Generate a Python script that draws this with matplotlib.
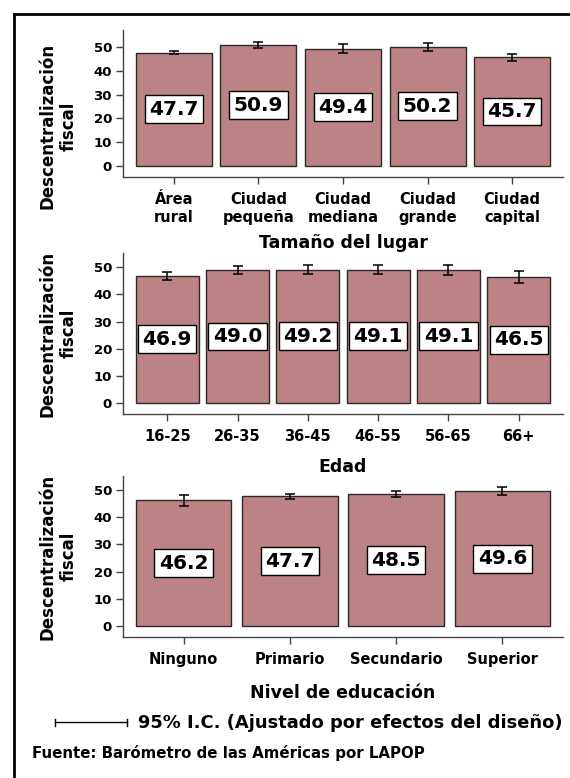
import numpy as np
import matplotlib
matplotlib.use('Agg')
import matplotlib.pyplot as plt
from matplotlib.lines import Line2D

# datos
lugar_cats = ['Área\nrural', 'Ciudad\npequeña', 'Ciudad\nmediana', 'Ciudad\ngrande', 'Ciudad\ncapital']
lugar_vals = [47.7, 50.9, 49.4, 50.2, 45.7]
lugar_err = [0.7, 1.3, 1.8, 1.7, 1.5]

edad_cats = ['16-25', '26-35', '36-45', '46-55', '56-65', '66+']
edad_vals = [46.9, 49.0, 49.2, 49.1, 49.1, 46.5]
edad_err = [1.4, 1.4, 1.6, 1.6, 1.8, 2.2]

educ_cats = ['Ninguno', 'Primario', 'Secundario', 'Superior']
educ_vals = [46.2, 47.7, 48.5, 49.6]
educ_err = [2.1, 1.0, 1.1, 1.4]

plt.rcParams['font.family'] = ['DejaVu Sans']
plt.rcParams['font.weight'] = 'bold'

W, H = 570, 778
fig = plt.figure(figsize=(W / 100, H / 100), dpi=100)
fig.patch.set_facecolor('white')

bar_color = '#bc8386'
axis_color = '#444444'


def panel(top, bottom, cats, vals, errs, xlabel, ylim, margin, ylab_y=0.5, xpad=7):
    # posiciones en pixeles -> fracciones de figura
    rect = [123 / W, 1 - bottom / H, 440 / W, (bottom - top) / H]
    ax = fig.add_axes(rect)
    x = np.arange(len(cats))
    ax.bar(x, vals, width=0.9, color=bar_color, edgecolor='#2a2a2a', linewidth=1.0)
    ax.errorbar(x, vals, yerr=errs, fmt='none', ecolor='black', elinewidth=1.1,
                capsize=3.3, capthick=1.1)
    for xi, v in zip(x, vals):
        ax.text(xi, v / 2, f'{v:.1f}', ha='center', va='center', fontsize=14.5,
                fontweight='bold',
                bbox=dict(boxstyle='square,pad=0.22', facecolor='white',
                          edgecolor='black', linewidth=1.0))
    ax.set_xlim(-margin, len(cats) - 1 + margin)
    ax.set_ylim(*ylim)
    ax.set_yticks([0, 10, 20, 30, 40, 50])
    ax.set_xticks(x)
    ax.set_xticklabels(cats, fontsize=10.5, fontweight='bold')
    ax.tick_params(axis='y', labelsize=9.5, length=5, width=1, color=axis_color, pad=3)
    ax.tick_params(axis='x', length=5, width=1, color=axis_color, pad=6)
    for lab in ax.get_yticklabels():
        lab.set_fontweight('bold')
    for s in ['top', 'right']:
        ax.spines[s].set_visible(False)
    for s in ['left', 'bottom']:
        ax.spines[s].set_color(axis_color)
        ax.spines[s].set_linewidth(1.0)
    ax.set_ylabel('Descentralización\nfiscal', fontsize=12, fontweight='bold',
                  linespacing=1.2)
    ax.yaxis.set_label_coords(-0.104, ylab_y)
    ax.set_xlabel(xlabel, fontsize=12.5, fontweight='bold', labelpad=xpad)
    return ax


panel(30, 177, lugar_cats, lugar_vals, lugar_err, 'Tamaño del lugar',
      (-4.8, 57.3), 0.6, ylab_y=0.347, xpad=7)
panel(253, 414, edad_cats, edad_vals, edad_err, 'Edad', (-4.1, 55.3), 0.63, xpad=10)
panel(476, 637, educ_cats, educ_vals, educ_err, 'Nivel de educación',
      (-4.05, 55.2), 0.57, xpad=12)

# leyenda del intervalo de confianza
ly = 1 - 722 / H
fig.add_artist(Line2D([55 / W, 127 / W], [ly, ly], color='black', lw=1.0))
fig.add_artist(Line2D([55 / W, 55 / W], [ly - 3.5 / H, ly + 3.5 / H], color='black', lw=1.0))
fig.add_artist(Line2D([127 / W, 127 / W], [ly - 3.5 / H, ly + 3.5 / H], color='black', lw=1.0))
fig.text(138 / W, 1 - 728 / H, '95% I.C. (Ajustado por efectos del diseño)', fontsize=12.9,
         fontweight='bold', va='baseline', ha='left')

fig.text(32 / W, 1 - 758 / H, 'Fuente: Barómetro de las Américas por LAPOP',
         fontsize=10.8, fontweight='bold', va='baseline', ha='left')

# marco
fig.add_artist(Line2D([14 / W, 14 / W], [0, 1 - 14 / H], color='black', lw=2.0))
fig.add_artist(Line2D([14 / W, 1], [1 - 14 / H, 1 - 14 / H], color='black', lw=2.0))

fig.savefig('out.png', dpi=100)
